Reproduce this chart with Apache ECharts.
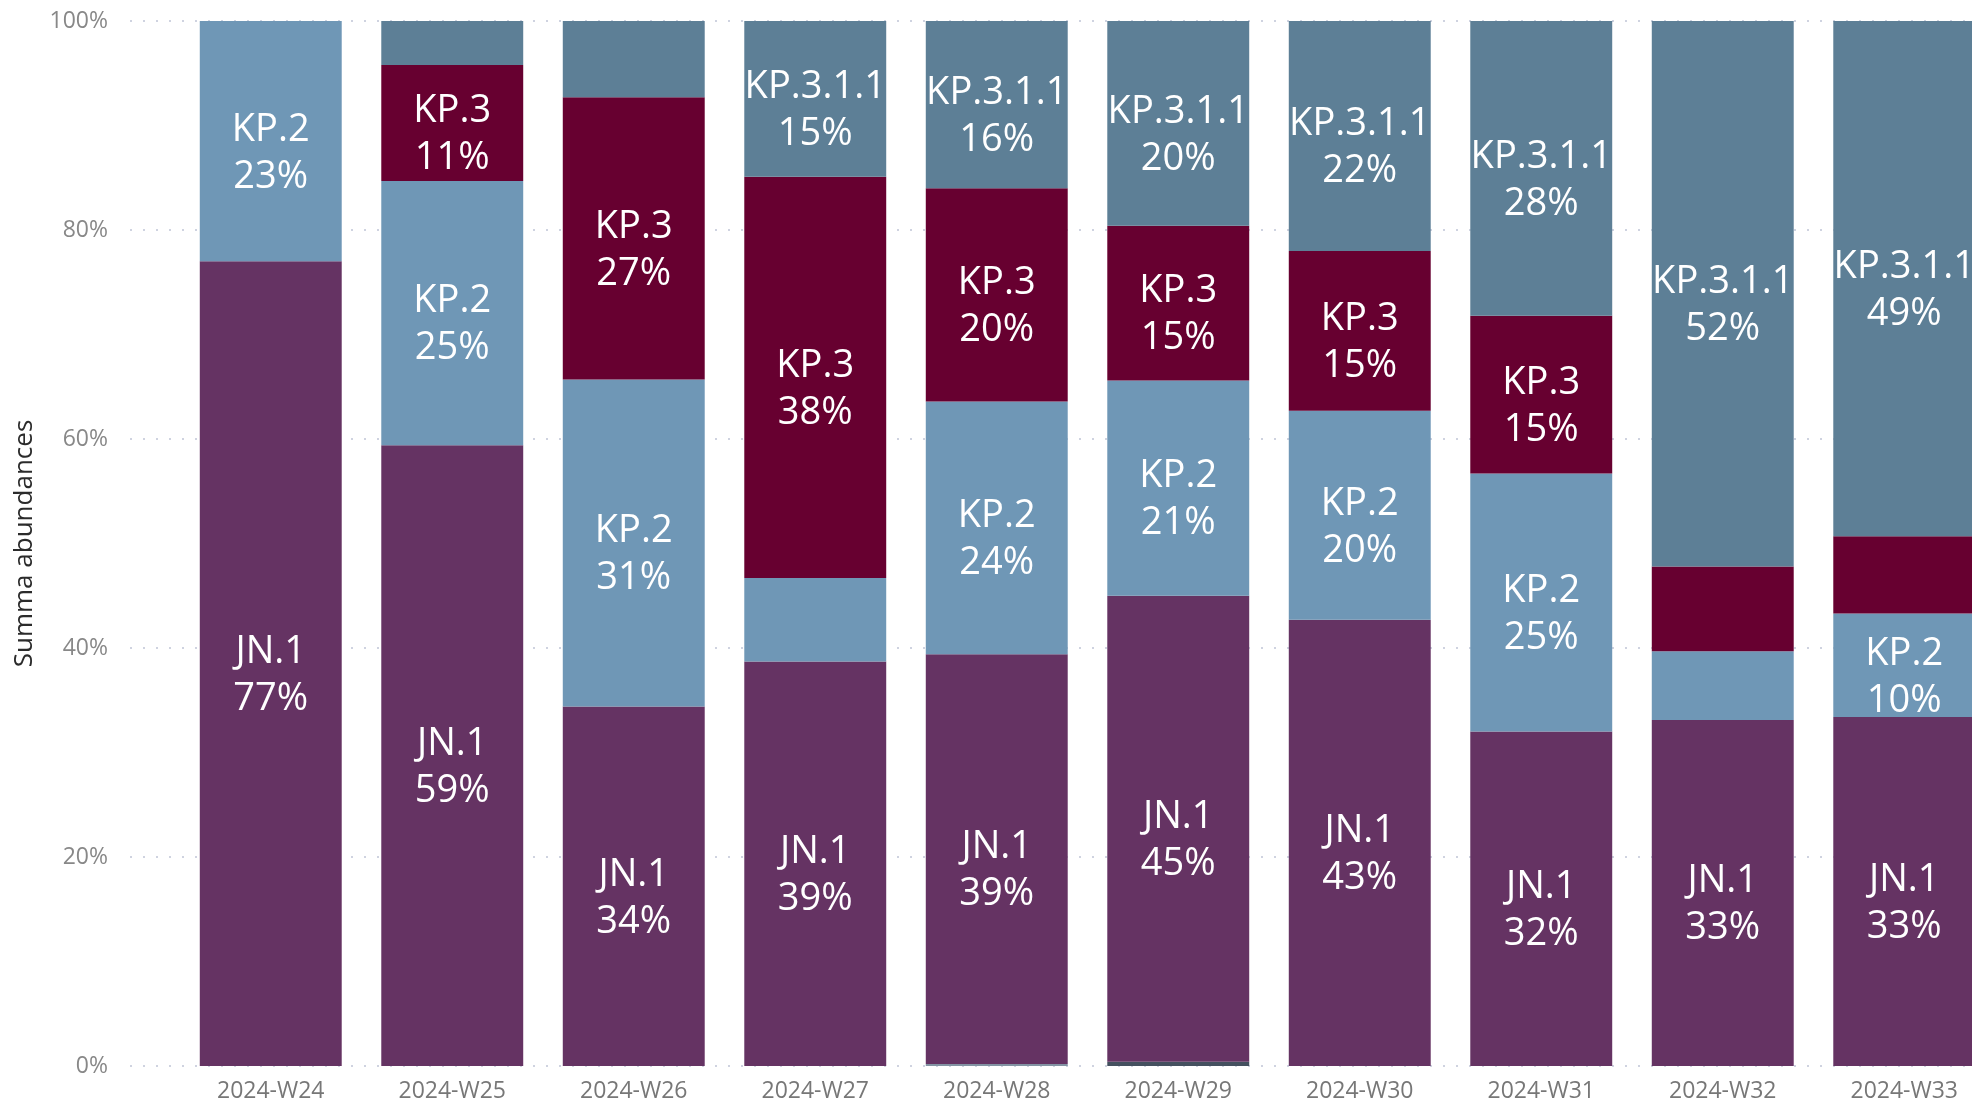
<!DOCTYPE html>
<html>
<head>
<meta charset="utf-8">
<script src="https://cdn.jsdelivr.net/npm/echarts@6/dist/echarts.min.js"></script>
<style>
  html, body { margin: 0; padding: 0; background: #fff; overflow: hidden; }
  #chart { width: 1972px; height: 1103px; }
</style>
</head>
<body>
<div id="chart"></div>
<script>
// veckor
const weeks = ['2024-W24', '2024-W25', '2024-W26', '2024-W27', '2024-W28',
               '2024-W29', '2024-W30', '2024-W31', '2024-W32', '2024-W33'];

// andel per linje (%)
const otherA  = [0, 0, 0, 0, 0.2, 0, 0, 0, 0, 0];
const otherB  = [0, 0, 0, 0, 0, 0.4, 0, 0, 0, 0];
const jn1     = [77, 59.4, 34.4, 38.7, 39.2, 44.6, 42.7, 32.0, 33.1, 33.4];
const kp2     = [23, 25.3, 31.3, 8.0, 24.2, 20.6, 20.0, 24.7, 6.6, 9.9];
const kp3     = [0, 11.1, 27.0, 38.4, 20.4, 14.8, 15.3, 15.1, 8.1, 7.4];
const kp3_1_1 = [0, 4.2, 7.3, 14.9, 16.0, 19.6, 22.0, 28.2, 52.2, 49.3];

const yTicks = [0, 20, 40, 60, 80, 100];

const chart = echarts.init(document.getElementById('chart'));

const labelFont = '"Segoe UI", "Open Sans", sans-serif';

function barLabel(p) {
  if (p.value < 9) return '';
  return p.seriesName + '\n' + Math.round(p.value) + '%';
}

function mkSeries(name, data, color) {
  return {
    name: name,
    type: 'bar',
    stack: 'total',
    xAxisIndex: 0,
    yAxisIndex: 0,
    barCategoryGap: '21.8%',
    data: data,
    itemStyle: { color: color },
    label: {
      show: true,
      position: 'inside',
      offset: [0, 12],
      color: '#ffffff',
      fontFamily: labelFont,
      fontSize: 38,
      lineHeight: 47,
      formatter: barLabel
    }
  };
}

const option = {
  animation: false,
  backgroundColor: '#ffffff',
  grid: [
    // staplar, sista kolumnen går ut över kanten
    { left: 180, right: -23, top: 21, bottom: 37, outerBoundsMode: 'none', containLabel: false },
    // y-axel + stödlinjer
    { left: 130, right: 0, top: 21, bottom: 37, outerBoundsMode: 'none', containLabel: false }
  ],
  xAxis: [
    {
      type: 'category',
      gridIndex: 0,
      data: weeks,
      axisLine: { show: false },
      axisTick: { show: false },
      axisLabel: {
        color: '#777',
        fontFamily: labelFont,
        fontSize: 23,
        margin: 14
      }
    },
    {
      type: 'category',
      gridIndex: 1,
      data: weeks,
      show: false
    }
  ],
  yAxis: [
    {
      type: 'value',
      gridIndex: 0,
      min: 0,
      max: 100,
      interval: 20,
      show: false,
      splitLine: { show: false }
    },
    {
      type: 'value',
      gridIndex: 1,
      min: yTicks[0],
      max: yTicks[yTicks.length - 1],
      interval: 20,
      axisLine: { show: false },
      axisTick: { show: false },
      axisLabel: {
        color: '#888',
        fontFamily: labelFont,
        fontSize: 23,
        margin: 22,
        formatter: v => v + '%'
      },
      splitLine: {
        show: true,
        lineStyle: { color: '#cfd3e0', width: 2, type: [2, 11] }
      },
      name: 'Summa abundances',
      nameLocation: 'middle',
      nameRotate: 90,
      nameGap: 92,
      nameTextStyle: {
        color: '#2b2b2b',
        fontFamily: labelFont,
        fontSize: 26
      }
    }
  ],
  series: [
    mkSeries('Övriga', otherA, '#8393a3'),
    mkSeries('Övriga ', otherB, '#44505f'),
    mkSeries('JN.1', jn1, '#653363'),
    mkSeries('KP.2', kp2, '#6f97b6'),
    mkSeries('KP.3', kp3, '#670030'),
    mkSeries('KP.3.1.1', kp3_1_1, '#5d7f96')
  ]
};

chart.setOption(option);
</script>
</body>
</html>
